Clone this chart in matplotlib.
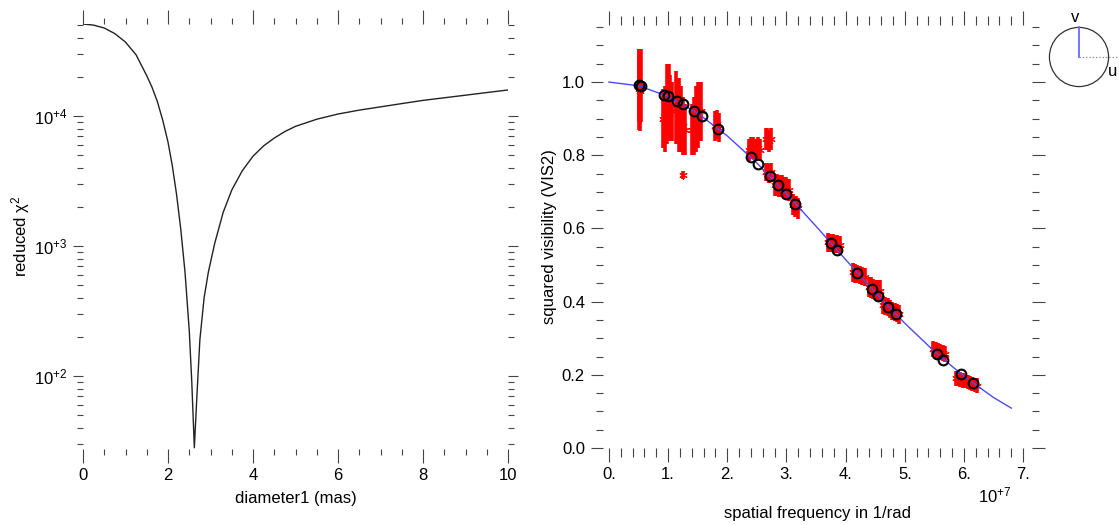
import numpy as np
import matplotlib.pyplot as plt
from matplotlib.ticker import MultipleLocator, LogLocator, FuncFormatter, NullFormatter
from matplotlib.patches import Circle

plt.rcParams['font.family'] = ['Liberation Sans', 'DejaVu Sans']
plt.rcParams['mathtext.fontset'] = 'custom'
plt.rcParams['mathtext.rm'] = 'Liberation Sans'
plt.rcParams['mathtext.default'] = 'regular'
plt.rcParams['font.size'] = 12

# left panel: reduced chi2 against uniform disk diameter
diameter = [0.0, 0.25, 0.5, 0.75, 1.0, 1.25, 1.5, 1.625, 1.75, 1.875, 2.0,
            2.1, 2.2, 2.3, 2.4, 2.5, 2.56, 2.62, 2.68, 2.75, 2.85, 2.95, 3.1,
            3.3, 3.5, 3.75, 4.0, 4.25, 4.5, 4.75, 5.0, 5.5, 6.0, 6.5, 7.0,
            7.5, 8.0, 8.5, 9.0, 9.5, 10.0]
chi2 = [51000, 50000, 47500, 43000, 37000, 29500, 20400, 16600, 12900, 9300,
        6300, 4170, 2510, 1350, 630, 224, 89, 28, 70, 190, 400, 630, 1050,
        1820, 2690, 3800, 4900, 5890, 6760, 7590, 8320, 9440, 10350, 11090,
        11750, 12450, 13180, 13800, 14450, 15140, 15850]

# right panel: model curve (spatial frequency in units of 1e7 1/rad)
model_freq = [0.0, 0.5, 1.0, 1.5, 2.0, 2.5, 3.0, 3.5, 4.0, 4.5, 5.0, 5.5, 6.0, 6.5, 6.8]
model_vis2 = [1.0, 0.990, 0.961, 0.915, 0.853, 0.779, 0.695, 0.606, 0.515,
              0.425, 0.341, 0.264, 0.196, 0.138, 0.109]

# model values at the observed frequencies
obs_model_freq = [0.50, 0.55, 0.93, 1.00, 1.15, 1.25, 1.43, 1.57, 1.85, 2.40,
                  2.52, 2.72, 2.85, 3.00, 3.15, 3.75, 3.85, 4.20, 4.45, 4.55,
                  4.72, 4.85, 5.55, 5.65, 5.95, 6.15]
obs_model_vis2 = [0.991, 0.989, 0.966, 0.961, 0.949, 0.941, 0.922, 0.908, 0.872,
                  0.794, 0.775, 0.742, 0.720, 0.695, 0.668, 0.560, 0.542, 0.478,
                  0.434, 0.416, 0.386, 0.365, 0.256, 0.241, 0.202, 0.177]

# measured VIS2 with errors, grouped by baseline
vis_freq = [0.50, 0.51, 0.52, 0.53, 0.54,
            0.92, 0.95, 0.98, 1.01, 1.04, 1.07,
            1.13, 1.16, 1.19, 1.22, 1.25, 1.28, 1.25,
            1.41, 1.44, 1.47, 1.50, 1.53, 1.56,
            1.80, 1.83, 1.86,
            2.36, 2.40, 2.44, 2.48, 2.52, 2.56,
            2.65, 2.68, 2.71, 2.74,
            2.65, 2.68, 2.71, 2.74,
            2.80, 2.84, 2.88, 2.92, 2.96, 3.00, 3.04,
            3.11, 3.14, 3.17, 3.20,
            3.70, 3.74, 3.78, 3.82, 3.86, 3.90,
            4.12, 4.16, 4.20, 4.24, 4.28, 4.32,
            4.39, 4.43, 4.47, 4.51, 4.55, 4.58,
            4.63, 4.67, 4.71, 4.75, 4.79, 4.83, 4.87, 4.91,
            5.48, 5.52, 5.56, 5.60, 5.64, 5.68,
            5.86, 5.90, 5.94, 5.98, 6.02, 6.06, 6.10, 6.14, 6.18, 6.22]
vis2 = [0.99, 0.98, 0.985, 0.975, 0.99,
        0.90, 0.90, 0.94, 0.95, 0.93, 0.92,
        0.93, 0.92, 0.91, 0.90, 0.88, 0.87, 0.746,
        0.87, 0.88, 0.90, 0.91, 0.92, 0.92,
        0.88, 0.885, 0.875,
        0.815, 0.82, 0.82, 0.815, 0.82, 0.815,
        0.845, 0.845, 0.84, 0.845,
        0.755, 0.755, 0.75, 0.755,
        0.72, 0.72, 0.715, 0.715, 0.71, 0.71, 0.705,
        0.665, 0.66, 0.66, 0.655,
        0.562, 0.56, 0.56, 0.558, 0.558, 0.555,
        0.48, 0.477, 0.475, 0.472, 0.47, 0.468,
        0.44, 0.438, 0.435, 0.432, 0.43, 0.43,
        0.39, 0.388, 0.385, 0.38, 0.375, 0.372, 0.368, 0.365,
        0.27, 0.268, 0.265, 0.262, 0.26, 0.258,
        0.19, 0.19, 0.188, 0.185, 0.183, 0.18, 0.178, 0.175, 0.172, 0.17]
vis2_err = [0.10, 0.11, 0.10, 0.11, 0.10,
            0.08, 0.09, 0.11, 0.10, 0.09, 0.08,
            0.10, 0.09, 0.10, 0.09, 0.08, 0.07, 0.01,
            0.07, 0.08, 0.09, 0.09, 0.08, 0.08,
            0.04, 0.04, 0.04,
            0.03, 0.03, 0.03, 0.03, 0.03, 0.03,
            0.03, 0.03, 0.03, 0.03,
            0.025, 0.025, 0.025, 0.025,
            0.03, 0.03, 0.03, 0.03, 0.03, 0.03, 0.03,
            0.028, 0.028, 0.028, 0.028,
            0.025, 0.025, 0.025, 0.025, 0.025, 0.025,
            0.025, 0.025, 0.025, 0.025, 0.025, 0.025,
            0.028, 0.028, 0.028, 0.028, 0.028, 0.028,
            0.025, 0.025, 0.025, 0.025, 0.025, 0.025, 0.025, 0.025,
            0.022, 0.022, 0.022, 0.022, 0.022, 0.022,
            0.02, 0.02, 0.02, 0.02, 0.02, 0.02, 0.02, 0.02, 0.02, 0.02]

TICK_COLOR = '#444444'


def style_axes(ax, xmaj, xmin, ymaj, ymin):
    for s in ax.spines.values():
        s.set_visible(False)
    ax.tick_params(axis='both', which='both', direction='out', top=True,
                   right=True, color=TICK_COLOR, width=0.8, labelsize=12)
    ax.tick_params(axis='x', which='major', length=xmaj, pad=4)
    ax.tick_params(axis='x', which='minor', length=xmin)
    ax.tick_params(axis='y', which='major', length=ymaj, pad=4)
    ax.tick_params(axis='y', which='minor', length=ymin)


fig = plt.figure(figsize=(11.19, 5.25), dpi=100)

# left panel
ax1 = fig.add_axes([83 / 1119, 1 - 449 / 525, 425 / 1119, 425 / 525])
ax1.plot(diameter, chi2, color='#222222', lw=1.0)
ax1.set_xlim(0, 10)
ax1.set_yscale('log')
ax1.set_ylim(27.4, 51000)
ax1.xaxis.set_major_locator(MultipleLocator(2))
ax1.xaxis.set_minor_locator(MultipleLocator(0.5))
ax1.yaxis.set_major_locator(LogLocator(base=10))
ax1.yaxis.set_minor_locator(LogLocator(base=10, subs=range(2, 10)))
ax1.yaxis.set_minor_formatter(NullFormatter())
ax1.yaxis.set_major_formatter(
    FuncFormatter(lambda v, p: '10$^{+%d}$' % int(round(np.log10(v)))))
style_axes(ax1, 10, 4.5, 7, 4.5)
ax1.set_xlabel('diameter1 (mas)', fontsize=12)
ax1.xaxis.set_label_coords(0.5, -0.1)
ax1.set_ylabel('reduced χ$^{2}$', fontsize=12)
ax1.yaxis.set_label_coords(-0.121, 0.5)

# right panel
ax2 = fig.add_axes([603 / 1119, 1 - 448 / 525, 429 / 1119, 423 / 525])
ax2.errorbar(vis_freq, vis2, yerr=vis2_err, fmt='none', ecolor='red',
             elinewidth=2.6, zorder=2)
ax2.plot(vis_freq, vis2, ls='none', marker=(6, 2, 0), color='red', ms=6,
         mew=0.8, zorder=2)
ax2.plot(model_freq, model_vis2, color='#4a4aff', lw=1.0, zorder=3)
ax2.plot(obs_model_freq, obs_model_vis2, ls='none', marker='o', mfc='none',
         mec='black', mew=1.5, ms=7, zorder=4)
ax2.set_xlim(-0.1, 7.15)
ax2.set_ylim(0, 1.156)
ax2.xaxis.set_major_locator(MultipleLocator(1))
ax2.xaxis.set_minor_locator(MultipleLocator(0.2))
ax2.yaxis.set_major_locator(MultipleLocator(0.2))
ax2.yaxis.set_minor_locator(MultipleLocator(0.05))
ax2.xaxis.set_major_formatter(FuncFormatter(lambda v, p: '%d.' % round(v)))
ax2.yaxis.set_major_formatter(FuncFormatter(lambda v, p: '%.1f' % v))
style_axes(ax2, 10, 6.5, 9, 5)
ax2.set_xlabel('spatial frequency in 1/rad', fontsize=12)
ax2.xaxis.set_label_coords(0.5, -0.137)
ax2.set_ylabel('squared visibility (VIS2)', fontsize=12)
ax2.yaxis.set_label_coords(-0.107, 0.5)
fig.text(995 / 1119, 1 - 495 / 525, '10$^{+7}$', ha='center', va='center',
         fontsize=12)

# uv orientation inset
ax3 = fig.add_axes([1045 / 1119, 1 - 91 / 525, 68 / 1119, 68 / 525])
ax3.set_xlim(-1.15, 1.15)
ax3.set_ylim(-1.15, 1.15)
ax3.set_aspect('equal')
ax3.axis('off')
ax3.add_patch(Circle((0, 0), 1.0, fill=False, ec='#333333', lw=0.9))
ax3.plot([0, 0], [0, 1.0], color='#6a6aff', lw=1.3)
ax3.plot([0, 1.45], [0, 0], color='#888888', lw=0.9, ls=':', clip_on=False)
ax3.text(-0.13, 1.35, 'v', ha='center', va='center', fontsize=12)
ax3.text(1.15, -0.5, 'u', ha='center', va='center', fontsize=12,
         clip_on=False)

fig.savefig('out.png', dpi=100)
